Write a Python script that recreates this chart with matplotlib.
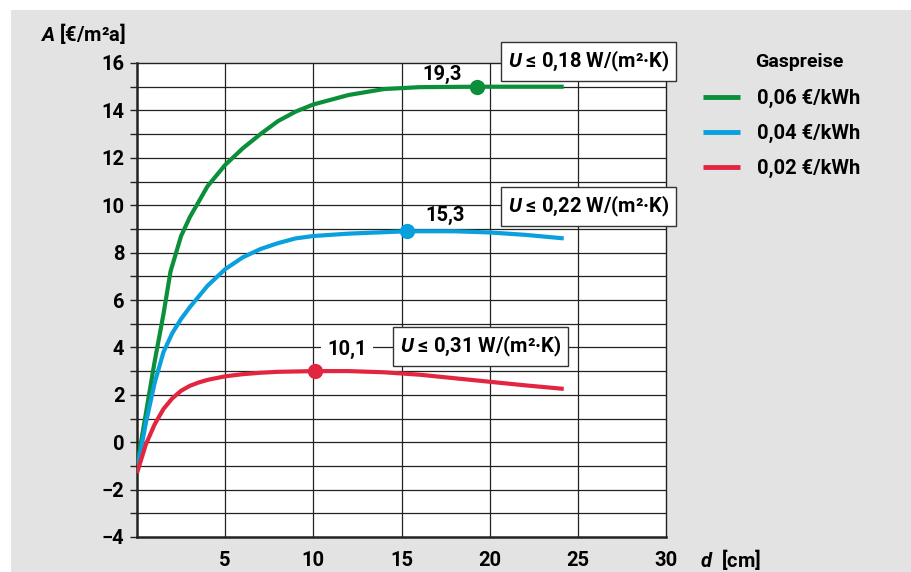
import matplotlib.pyplot as plt
from matplotlib.patches import Rectangle

plt.rcParams['font.family'] = ['Roboto', 'DejaVu Sans']
plt.rcParams['mathtext.fontset'] = 'custom'
plt.rcParams['mathtext.rm'] = 'Roboto'
plt.rcParams['mathtext.it'] = 'Roboto:italic:bold'

# Daten
d_gruen = [0, 0.5, 1.0, 1.5, 1.9, 2.5, 3, 4, 5, 6, 7, 8, 9, 10, 12, 14, 16, 19.3, 24.2]
a_gruen = [-1.0, 1.2, 3.4, 5.4, 7.2, 8.7, 9.5, 10.8, 11.7, 12.4, 13.0, 13.55, 13.95, 14.25, 14.65, 14.9, 14.98, 15.0, 15.0]

d_blau = [0, 0.5, 1.0, 1.5, 2.0, 2.5, 3, 4, 5, 6, 7, 8, 9, 10, 12, 15.3, 18, 20, 22, 24.2]
a_blau = [-1.2, 0.8, 2.5, 3.8, 4.6, 5.2, 5.7, 6.6, 7.3, 7.8, 8.15, 8.4, 8.6, 8.7, 8.8, 8.9, 8.9, 8.85, 8.75, 8.6]

d_rot = [0, 0.5, 1, 1.5, 2, 2.5, 3, 3.5, 4, 5, 6, 7, 8, 10.1, 12, 14, 16, 18, 20, 22, 24.2]
a_rot = [-1.3, -0.1, 0.75, 1.4, 1.85, 2.17, 2.38, 2.52, 2.63, 2.78, 2.87, 2.93, 2.97, 3.0, 3.0, 2.95, 2.85, 2.7, 2.55, 2.4, 2.25]

preise = ['0,06 €/kWh', '0,04 €/kWh', '0,02 €/kWh']
farben = ['#0b8f3a', '#0a9fdd', '#e3263f']

optimum_d = [19.3, 15.3, 10.1]
optimum_a = [15.0, 8.9, 3.0]
optimum_txt = ['19,3', '15,3', '10,1']
u_werte = ['0,18', '0,22', '0,31']

fs = 14.5

fig = plt.figure(figsize=(9.12, 5.72), dpi=100, facecolor='white')
fig.patches.append(Rectangle((11 / 912, 0), 1, 1 - 10 / 572, transform=fig.transFigure,
                             facecolor='#e2e3e2', edgecolor='none', zorder=-10))

ax = fig.add_axes([137 / 912, 1 - 537 / 572, (666 - 137) / 912, (537 - 63) / 572])
ax.set_facecolor('white')
ax.set_xlim(0, 30)
ax.set_ylim(-4, 16)

ax.set_yticks(range(-4, 17, 2))
ax.set_yticks(range(-4, 17), minor=True)
ax.set_xticks([5, 10, 15, 20, 25, 30])
ax.set_xticklabels(['5', '10', '15', '20', '25', '30'])
ax.tick_params(axis='y', which='both', length=5, width=1, color='#222222',
               labelsize=fs, pad=4)
ax.tick_params(axis='x', length=0, labelsize=fs, pad=10)
for lab in ax.get_xticklabels() + ax.get_yticklabels():
    lab.set_fontweight('bold')

for yv in range(-3, 16):
    ax.axhline(yv, color='#222222', lw=0.9, zorder=1)
for xv in [5, 10, 15, 20, 25]:
    ax.axvline(xv, color='#222222', lw=0.9, zorder=1)
for s in ['top', 'right']:
    ax.spines[s].set_linewidth(1.0)
    ax.spines[s].set_color('#222222')
for s in ['left', 'bottom']:
    ax.spines[s].set_linewidth(1.8)
    ax.spines[s].set_color('#222222')

ax.plot(d_gruen, a_gruen, color=farben[0], lw=3, label=preise[0], zorder=3,
        solid_capstyle='butt')
ax.plot(d_blau, a_blau, color=farben[1], lw=3, label=preise[1], zorder=3,
        solid_capstyle='butt')
ax.plot(d_rot, a_rot, color=farben[2], lw=3, label=preise[2], zorder=3,
        solid_capstyle='butt')

for i in range(3):
    ax.plot(optimum_d[i], optimum_a[i], 'o', color=farben[i], ms=10, zorder=4)

box = dict(boxstyle='square,pad=0.33', facecolor='white', edgecolor='#333333', lw=1)
# Wert am Optimum
ax.text(17.3, 15.5, optimum_txt[0], ha='center', va='center', fontsize=fs,
        fontweight='bold', zorder=5)
ax.text(17.5, 9.55, optimum_txt[1], ha='center', va='center', fontsize=fs,
        fontweight='bold', zorder=5)
ax.text(11.9, 3.9, optimum_txt[2], ha='center', va='center', fontsize=fs,
        fontweight='bold', zorder=5,
        bbox=dict(boxstyle='square,pad=0.3', facecolor='white', edgecolor='none'))
# U-Werte
u_pos = [(25.6, 16.06), (25.6, 9.95), (19.5, 4.04)]
for i in range(3):
    ax.text(u_pos[i][0], u_pos[i][1], '$U$ ≤ ' + u_werte[i] + ' W/(m²·K)',
            ha='center', va='center', fontsize=fs, fontweight='bold',
            bbox=box, zorder=6, clip_on=False)

fig.text(40 / 912, 1 - 33 / 572, '$A$ [€/m²a]', fontsize=fs, va='center',
         fontweight='bold')
fig.text(700 / 912, 1 - 559 / 572, '$d$  [cm]', fontsize=fs, va='center',
         fontweight='bold')

fig.text(755 / 912, 1 - 62 / 572, 'Gaspreise', fontsize=fs - 0.5, va='center',
         fontweight='bold')
leg = ax.legend(loc='upper left', bbox_to_anchor=(703 / 912, 1 - 89 / 572),
                bbox_transform=fig.transFigure, frameon=False,
                prop={'size': fs, 'weight': 'bold'}, borderpad=0, borderaxespad=0,
                handlelength=1.85, handletextpad=0.85, labelspacing=0.78)
for line in leg.get_lines():
    line.set_linewidth(3.5)

fig.savefig('out.png', dpi=100, facecolor=fig.get_facecolor())
